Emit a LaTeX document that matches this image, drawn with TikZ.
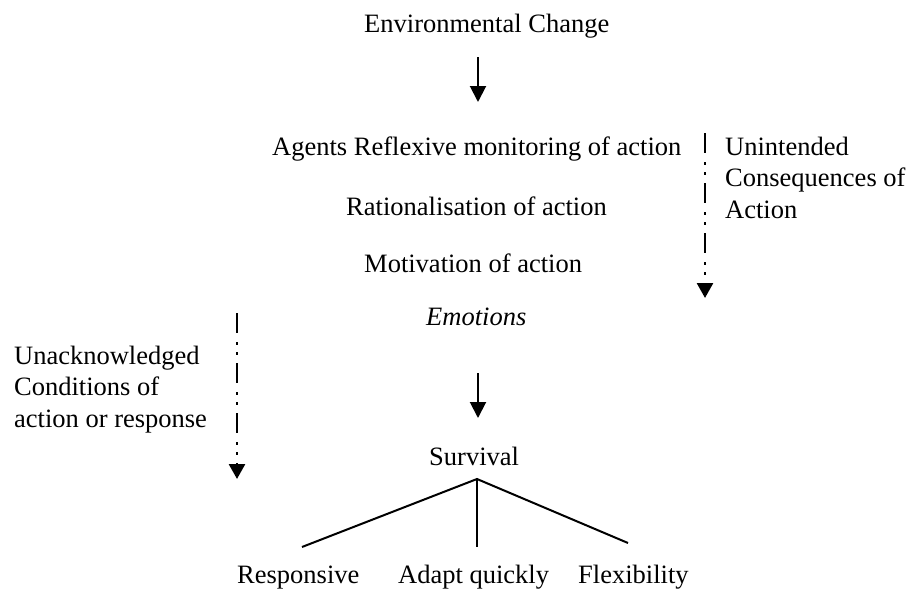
\documentclass[tikz,border=0pt]{standalone}
\usepackage{fontspec}
\setmainfont{Liberation Serif}
\usetikzlibrary{arrows.meta}
\begin{document}
\begin{tikzpicture}[x=1pt,y=-1pt,
  txt/.style={inner sep=0pt,anchor=base west,font=\fontsize{26.5}{31.5}\selectfont},
  solidarrow/.style={line width=2pt,-{Triangle[length=16pt,width=16pt]}},
  dasharrow/.style={line width=2.7pt,dash pattern=on 20pt off 9pt on 2.5pt off 7.5pt on 2.5pt off 8.5pt,-{Triangle[length=15pt,width=16pt]}},
  branch/.style={line width=2pt}]
\useasboundingbox (0,0) rectangle (911,589);

% texts
\node[txt] (env) at (364,32) {Environmental Change};
\node[txt] (agents) at (272,155) {Agents Reflexive monitoring of action};
\node[txt] (rat) at (346,215) {Rationalisation of action};
\node[txt] (mot) at (364,272) {Motivation of action};
\node[txt] (emo) at (426,325) {\itshape Emotions};
\node[txt] (surv) at (429,465) {Survival};
\node[txt] (resp) at (237,583) {Responsive};
\node[txt] (adapt) at (398,583) {Adapt quickly};
\node[txt] (flex) at (578,583) {Flexibility};
\node[txt] (unint) at (725,155) {\begin{tabular}[t]{@{}l@{}}Unintended\\Consequences of\\Action\end{tabular}};
\node[txt] (unack) at (14,364) {\begin{tabular}[t]{@{}l@{}}Unacknowledged\\Conditions of\\action or response\end{tabular}};

% arrow end points
\coordinate (a1s) at (478,57);
\coordinate (a1e) at (478,102);
\coordinate (a2s) at (478,373);
\coordinate (a2e) at (478,418);
\coordinate (r1s) at (705,133);
\coordinate (r1e) at (705,298);
\coordinate (l1s) at (237,313);
\coordinate (l1e) at (237,479);
\coordinate (apex) at (477,479);
\coordinate (bl) at (302,547);
\coordinate (bm) at (477,547);
\coordinate (br) at (628,543);

\draw[solidarrow] (a1s) -- (a1e);
\draw[solidarrow] (a2s) -- (a2e);
\draw[dasharrow] (r1s) -- (r1e);
\draw[dasharrow] (l1s) -- (l1e);

\draw[branch] (bl) -- (apex) -- (br);
\draw[branch] (apex) -- (bm);
\end{tikzpicture}
\end{document}
